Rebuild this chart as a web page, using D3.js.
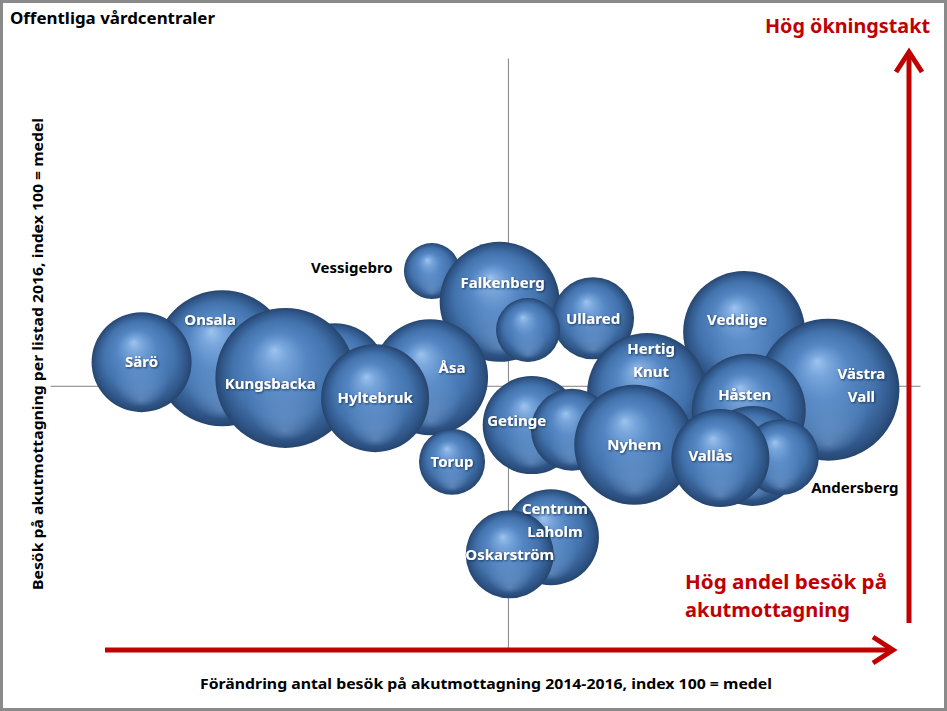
<!DOCTYPE html>
<html>
<head>
<meta charset="utf-8">
<script src="https://cdn.jsdelivr.net/npm/d3@7"></script>
<style>
  body { margin: 0; background: #fff; }
  svg { display: block; }
</style>
</head>
<body>
<div id="chart"></div>
<script>
// bubble data, back to front (draw order matters, later bubbles sit on top)
var names = ["Onsala", "Särö", "", "Kungsbacka", "Vessigebro", "Falkenberg", "Åsa", "Hyltebruk",
  "Torup", "Ullared", "", "Veddige", "Västra Vall", "Hertig Knut", "Getinge", "", "Nyhem",
  "Håsten", "", "Andersberg", "Vallås", "Centrum Laholm", "Oskarström"];
var xVals = [68.8, 60.0, 81.1, 75.7, 91.7, 99.1, 91.5, 85.5,
  93.9, 109.3, 102.2, 125.8, 135.0, 115.2, 102.6, 107.0, 113.8,
  126.3, 126.7, 129.8, 123.2, 104.7, 100.2];
var yVals = [104.2, 103.6, 101.6, 101.2, 117.5, 112.8, 101.3, 98.1,
  88.4, 110.3, 108.5, 108.2, 99.4, 98.9, 94.0, 93.3, 91.0,
  96.2, 89.3, 89.1, 89.0, 76.9, 74.3];
var sizes = [8220, 4440, 4810, 8710, 1390, 6400, 5980, 5180,
  1940, 2990, 1820, 6620, 8960, 6400, 4270, 2990, 6400,
  5780, 4440, 2570, 4270, 4100, 3440];
var xDomain = [50, 145];
var yDomain = [60, 150];
var midValue = 100;

// label nudges (layout only), outside labels are drawn black
var labelNudge = {
  "Onsala": [-12, -38], "Kungsbacka": [-15, 6], "Åsa": [22, -10], "Vessigebro": [-80, -3],
  "Falkenberg": [3, -19], "Veddige": [-7, -12], "Västra Vall": [33, -4], "Hertig Knut": [4, -33],
  "Getinge": [-15, -4], "Håsten": [-4, -16], "Vallås": [-10, -2], "Andersberg": [74, 31],
  "Centrum Laholm": [4, -17]
};
var outsideLabels = ["Vessigebro", "Andersberg"];
var twoLine = { "Västra Vall": ["Västra", "Vall"], "Hertig Knut": ["Hertig", "Knut"], "Centrum Laholm": ["Centrum", "Laholm"] };

var W = 947, H = 711;
var red = "#c00000";

var svg = d3.select("#chart").append("svg").attr("width", W).attr("height", H);
var defs = svg.append("defs");

var grad = defs.append("radialGradient").attr("id", "sphere")
    .attr("cx", "50%").attr("cy", "50%").attr("r", "50%")
    .attr("fx", "42%").attr("fy", "30%");
grad.append("stop").attr("offset", "0%").attr("stop-color", "#9ec3ee");
grad.append("stop").attr("offset", "15%").attr("stop-color", "#79a6dc");
grad.append("stop").attr("offset", "40%").attr("stop-color", "#5486c3");
grad.append("stop").attr("offset", "70%").attr("stop-color", "#4373ad");
grad.append("stop").attr("offset", "90%").attr("stop-color", "#30578a");
grad.append("stop").attr("offset", "100%").attr("stop-color", "#26456e");

var rim = defs.append("radialGradient").attr("id", "rim")
    .attr("cx", "50%").attr("cy", "50%").attr("r", "50%")
    .attr("fx", "50%").attr("fy", "88%");
rim.append("stop").attr("offset", "0%").attr("stop-color", "#8fb6e6").attr("stop-opacity", 0.4);
rim.append("stop").attr("offset", "55%").attr("stop-color", "#8fb6e6").attr("stop-opacity", 0);
rim.append("stop").attr("offset", "100%").attr("stop-color", "#8fb6e6").attr("stop-opacity", 0);

var shadow = defs.append("filter").attr("id", "txtshadow").attr("x", "-10%").attr("y", "-20%").attr("width", "120%").attr("height", "140%");
shadow.append("feDropShadow").attr("dx", 1).attr("dy", 1).attr("stdDeviation", 0.8)
    .attr("flood-color", "#102540").attr("flood-opacity", 0.8);

// frame
svg.append("rect").attr("x", 1.5).attr("y", 1.5).attr("width", W - 3).attr("height", H - 3)
    .attr("fill", "#fff").attr("stroke", "#8a8a8a").attr("stroke-width", 3);

var x = d3.scaleLinear().domain(xDomain).range([50, 920]);
var y = d3.scaleLinear().domain(yDomain).range([648, 58]);
var r = d3.scaleSqrt().domain([0, 10000]).range([0, 75]);

// crossing axes at index 100
svg.append("g").attr("transform", "translate(0," + y(midValue) + ")")
    .call(d3.axisBottom(x).tickValues([]).tickSizeOuter(0))
    .select(".domain").attr("stroke", "#808080");
svg.append("g").attr("transform", "translate(" + x(midValue) + ",0)")
    .call(d3.axisLeft(y).tickValues([]).tickSizeOuter(0))
    .select(".domain").attr("stroke", "#808080");

var bubbles = names.map(function(n, i) {
  return { name: n, x: xVals[i], y: yVals[i], s: sizes[i] };
});

var g = svg.append("g");
var node = g.selectAll("g.b").data(bubbles).enter().append("g").attr("class", "b");
node.append("circle")
    .attr("cx", function(d) { return x(d.x); })
    .attr("cy", function(d) { return y(d.y); })
    .attr("r", function(d) { return r(d.s); })
    .attr("fill", "url(#sphere)");
node.append("circle")
    .attr("cx", function(d) { return x(d.x); })
    .attr("cy", function(d) { return y(d.y); })
    .attr("r", function(d) { return r(d.s); })
    .attr("fill", "url(#rim)");

// labels on top of all bubbles
var labels = svg.append("g")
    .attr("font-family", "'Noto Sans', 'DejaVu Sans', sans-serif")
    .attr("font-weight", "bold").attr("font-size", 15)
    .attr("text-anchor", "middle");
bubbles.filter(function(d) { return d.name !== ""; }).forEach(function(d) {
  var off = labelNudge[d.name] || [0, 0];
  var outside = outsideLabels.indexOf(d.name) >= 0;
  var lines = twoLine[d.name] || [d.name];
  var cx = x(d.x) + off[0], cy = y(d.y) + off[1];
  var t = labels.append("text")
      .attr("fill", outside ? "#000" : "#fff")
      .attr("filter", outside ? null : "url(#txtshadow)");
  lines.forEach(function(line, k) {
    t.append("tspan").attr("x", cx)
        .attr("y", cy + (k - (lines.length - 1) / 2) * 23)
        .attr("dy", "0.35em").text(line);
  });
});

// titles
svg.append("text").attr("x", 10).attr("y", 24)
    .attr("font-family", "'Noto Sans', sans-serif").attr("font-size", 16).attr("font-weight", "bold")
    .attr("textLength", 205).attr("lengthAdjust", "spacingAndGlyphs")
    .text("Offentliga vårdcentraler");

svg.append("text").attr("x", 200).attr("y", 689)
    .attr("font-family", "'Noto Sans', sans-serif").attr("font-size", 15).attr("font-weight", "bold")
    .attr("textLength", 572).attr("lengthAdjust", "spacingAndGlyphs")
    .text("Förändring antal besök på akutmottagning 2014-2016, index 100 = medel");

svg.append("text").attr("transform", "translate(43,590) rotate(-90)")
    .attr("font-family", "'Noto Sans', sans-serif").attr("font-size", 15).attr("font-weight", "bold")
    .attr("textLength", 472).attr("lengthAdjust", "spacingAndGlyphs")
    .text("Besök på akutmottagning per listad 2016, index 100 = medel");

// red annotation arrows
var arrows = svg.append("g").attr("stroke", red).attr("stroke-width", 5).attr("fill", "none")
    .attr("stroke-linecap", "butt");
arrows.append("line").attr("x1", 105).attr("y1", 650).attr("x2", 892).attr("y2", 650);
arrows.append("polyline").attr("points", "873,637 893,650 873,663").attr("stroke-linejoin", "miter");
arrows.append("line").attr("x1", 909).attr("y1", 623).attr("x2", 909).attr("y2", 53);
arrows.append("polyline").attr("points", "896,72 909,52 922,72").attr("stroke-linejoin", "miter");

var ann = svg.append("g").attr("fill", red)
    .attr("font-family", "'Noto Sans', sans-serif").attr("font-weight", "bold").attr("font-size", 20);
ann.append("text").attr("x", 765).attr("y", 33)
    .attr("textLength", 165).attr("lengthAdjust", "spacingAndGlyphs").text("Hög ökningstakt");
ann.append("text").attr("x", 685).attr("y", 589)
    .attr("textLength", 202).attr("lengthAdjust", "spacingAndGlyphs").text("Hög andel besök på");
ann.append("text").attr("x", 685).attr("y", 617)
    .attr("textLength", 165).attr("lengthAdjust", "spacingAndGlyphs").text("akutmottagning");
</script>
</body>
</html>
